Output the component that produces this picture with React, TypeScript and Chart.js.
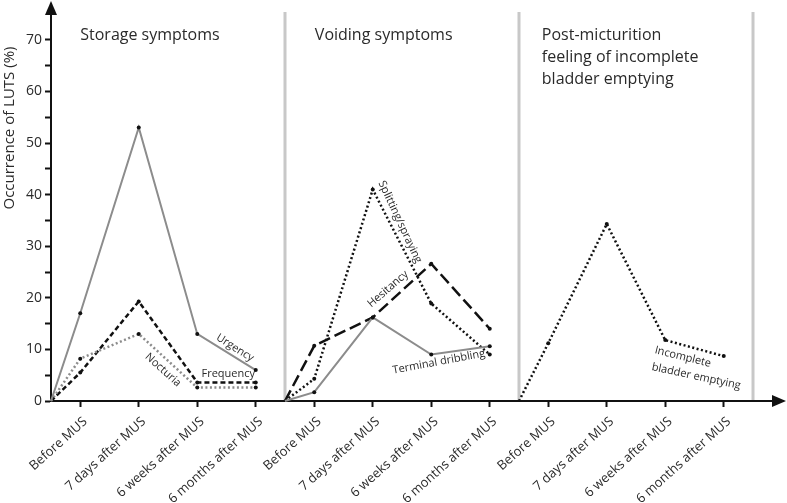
import React, { useEffect, useRef } from 'react';
import { Chart, registerables } from 'chart.js';

Chart.register(...registerables);

// ---------- data ----------
const categories = ['Before MUS', '7 days after MUS', '6 weeks after MUS', '6 months after MUS'];
const panelTitles = [
  ['Storage symptoms'],
  ['Voiding symptoms'],
  ['Post-micturition', 'feeling of incomplete', 'bladder emptying'],
];
const yTickValues = [0, 5, 10, 15, 20, 25, 30, 35, 40, 45, 50, 55, 60, 65, 70];

// Storage symptoms
const urgency = [17, 53, 13, 6];
const frequency = [5.5, 19.3, 3.6, 3.6];
const nocturia = [8.2, 13, 2.6, 2.6];
// Voiding symptoms
const splitting = [4.3, 41, 18.9, 9];
const hesitancy = [10.7, 16.2, 26.6, 14];
const dribbling = [1.7, 16.2, 9, 10.6];
// Post-micturition
const incomplete = [11.2, 34.3, 11.8, 8.7];

// ---------- layout / style ----------
const SLOTS = 4; // slots per panel
const X_MAX = 12.376;
const Y_MAX = 75.4;
const FONT = '"Open Sans", "DejaVu Sans", sans-serif';
const GRAY = '#8c8c8c';
const BLACK = '#111111';
const TEXT = '#2a2a2a';

type Series = { panel: number; values: number[]; color: string; dash: number[]; width: number };
const series: Series[] = [
  { panel: 0, values: urgency, color: GRAY, dash: [], width: 2 },
  { panel: 0, values: nocturia, color: GRAY, dash: [2, 2.5], width: 2.5 },
  { panel: 0, values: frequency, color: BLACK, dash: [5, 3], width: 2.5 },
  { panel: 1, values: dribbling, color: GRAY, dash: [], width: 2 },
  { panel: 1, values: splitting, color: BLACK, dash: [2, 2.5], width: 2.5 },
  { panel: 1, values: hesitancy, color: BLACK, dash: [12, 5], width: 2.5 },
  { panel: 2, values: incomplete, color: BLACK, dash: [2, 2.5], width: 2.5 },
];

type Note = { text: string; x: number; y: number; rot: number; align: CanvasTextAlign; base: CanvasTextBaseline };
const notes: Note[] = [
  { text: 'Urgency', x: 3.145, y: 10.3, rot: 32, align: 'center', base: 'middle' },
  { text: 'Frequency', x: 3.03, y: 5.2, rot: 0, align: 'center', base: 'middle' },
  { text: 'Nocturia', x: 1.915, y: 6.0, rot: 42, align: 'center', base: 'middle' },
  { text: 'Splitting/spraying', x: 5.966, y: 34.7, rot: 65, align: 'center', base: 'middle' },
  { text: 'Hesitancy', x: 5.76, y: 21.7, rot: -41, align: 'center', base: 'middle' },
  { text: 'Terminal dribbling', x: 6.63, y: 7.56, rot: -10.5, align: 'center', base: 'middle' },
  { text: 'Incomplete', x: 10.31, y: 9.3, rot: 14, align: 'left', base: 'alphabetic' },
  { text: 'bladder emptying', x: 10.26, y: 6.0, rot: 12, align: 'left', base: 'alphabetic' },
];
const titleOffsets = [0.5, 4.51, 8.39];

const tickPositions: number[] = [];
for (let p = 0; p < 3; p++) for (let k = 0; k < categories.length; k++) tickPositions.push(p * SLOTS + 0.5 + k);

const decor = {
  id: 'decor',
  beforeDatasetsDraw(chart: any) {
    const { ctx, scales } = chart;
    const x = scales.x, y = scales.y;
    ctx.save();
    ctx.strokeStyle = '#c8c8c8';
    ctx.lineWidth = 3;
    for (let p = 1; p <= 3; p++) {
      const px = x.getPixelForValue(p * SLOTS);
      ctx.beginPath();
      ctx.moveTo(px, y.getPixelForValue(0) - 1);
      ctx.lineTo(px, y.getPixelForValue(Y_MAX));
      ctx.stroke();
    }
    ctx.restore();
  },
  afterDraw(chart: any) {
    const { ctx, scales, chartArea } = chart;
    const x = scales.x, y = scales.y;
    ctx.save();
    // arrows
    ctx.fillStyle = BLACK;
    const ax = chartArea.left, ay = chartArea.bottom;
    ctx.beginPath();
    ctx.moveTo(ax, 1);
    ctx.lineTo(ax - 6, 15);
    ctx.lineTo(ax + 6, 15);
    ctx.closePath();
    ctx.fill();
    ctx.beginPath();
    ctx.moveTo(786, ay);
    ctx.lineTo(772, ay - 6);
    ctx.lineTo(772, ay + 6);
    ctx.closePath();
    ctx.fill();
    ctx.strokeStyle = BLACK;
    ctx.lineWidth = 2;
    ctx.beginPath();
    ctx.moveTo(chartArea.right, ay);
    ctx.lineTo(774, ay);
    ctx.stroke();

    // panel titles
    ctx.fillStyle = TEXT;
    ctx.font = `16px ${FONT}`;
    ctx.textAlign = 'left';
    ctx.textBaseline = 'alphabetic';
    panelTitles.forEach((lines, p) => {
      const px = x.getPixelForValue(titleOffsets[p]);
      lines.forEach((line, i) => ctx.fillText(line, px, 40 + i * 22));
    });

    // y title
    ctx.save();
    ctx.translate(10, 128);
    ctx.rotate(-Math.PI / 2);
    ctx.textAlign = 'center';
    ctx.textBaseline = 'middle';
    ctx.font = `15px ${FONT}`;
    ctx.fillText('Occurrence of LUTS (%)', 0, 0);
    ctx.restore();

    // series notes
    ctx.font = `11px ${FONT}`;
    notes.forEach((n) => {
      ctx.save();
      ctx.translate(x.getPixelForValue(n.x), y.getPixelForValue(n.y));
      ctx.rotate((n.rot * Math.PI) / 180);
      ctx.textAlign = n.align;
      ctx.textBaseline = n.base;
      ctx.fillText(n.text, 0, 0);
      ctx.restore();
    });
    ctx.restore();
  },
};

export default function App() {
  const ref = useRef<HTMLCanvasElement | null>(null);
  useEffect(() => {
    if (!ref.current) return;
    const datasets = series.map((s) => ({
      data: [
        { x: s.panel * SLOTS, y: 0 },
        ...s.values.map((v, k) => ({ x: s.panel * SLOTS + 0.5 + k, y: v })),
      ],
      borderColor: s.color,
      borderWidth: s.width,
      borderDash: s.dash,
      borderCapStyle: 'butt' as const,
      tension: 0,
      fill: false,
      pointRadius: [0, 2, 2, 2, 2],
      pointBackgroundColor: BLACK,
      pointBorderWidth: 0,
      clip: false as any,
    }));
    const chart = new Chart(ref.current, {
      type: 'line',
      data: { datasets },
      plugins: [decor],
      options: {
        animation: false,
        responsive: false,
        layout: { padding: { top: 12, right: 12, left: 0, bottom: 0 } },
        plugins: { legend: { display: false }, tooltip: { enabled: false } },
        scales: {
          x: {
            type: 'linear',
            min: 0,
            max: X_MAX,
            afterBuildTicks: (s: any) => {
              s.ticks = tickPositions.map((v) => ({ value: v }));
            },
            afterFit: (s: any) => {
              s.height = 102;
            },
            ticks: {
              autoSkip: false,
              minRotation: 42,
              maxRotation: 42,
              padding: 7,
              labelOffset: 5,
              color: TEXT,
              font: { family: FONT, size: 13 },
              callback: (_v: any, i: number) => categories[i % categories.length],
            },
            grid: { drawOnChartArea: false, drawTicks: true, tickLength: 6, tickWidth: 2, tickColor: BLACK },
            border: { display: true, color: BLACK, width: 2 },
          },
          y: {
            type: 'linear',
            min: 0,
            max: Y_MAX,
            afterBuildTicks: (s: any) => {
              s.ticks = yTickValues.map((v) => ({ value: v }));
            },
            afterFit: (s: any) => {
              s.width = 51;
            },
            ticks: {
              padding: 3,
              color: TEXT,
              font: { family: FONT, size: 14 },
              callback: (v: any) => (Number(v) % 10 === 0 ? String(v) : ''),
            },
            grid: { drawOnChartArea: false, drawTicks: true, tickLength: 6, tickWidth: 2, tickColor: BLACK },
            border: { display: true, color: BLACK, width: 2 },
          },
        },
      },
    });
    return () => chart.destroy();
  }, []);
  return (
    <div style={{ position: 'fixed', left: 0, top: 0, width: 787, height: 503, background: '#fff' }}>
      <canvas ref={ref} width={787} height={503} style={{ display: 'block' }} />
    </div>
  );
}
